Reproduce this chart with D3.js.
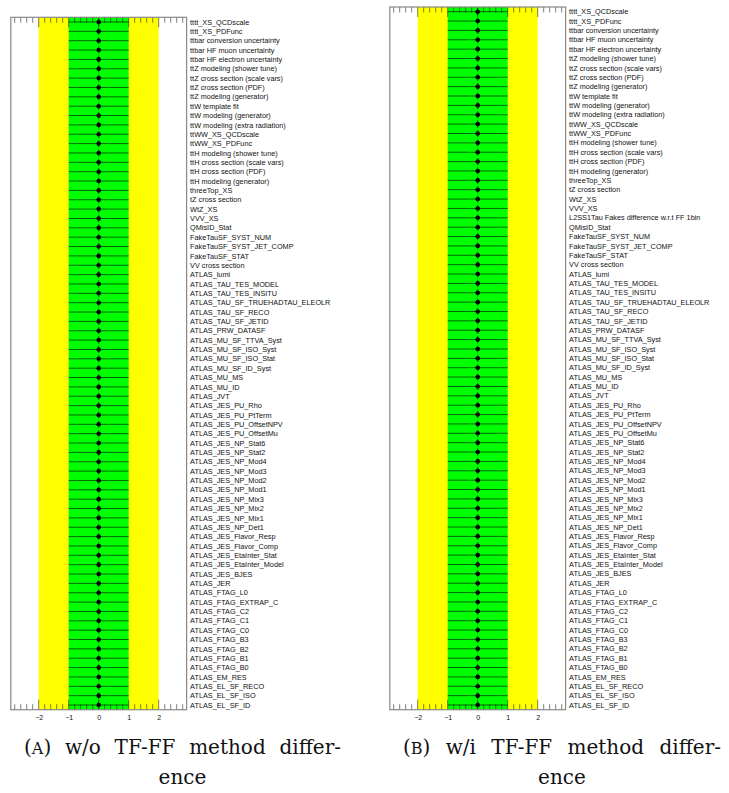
<!DOCTYPE html>
<html><head><meta charset="utf-8">
<script src="https://cdn.jsdelivr.net/npm/d3@7"></script>
<style>body{margin:0;background:#fff}svg{display:block}</style>
</head><body>
<svg id="c" width="729" height="793"></svg>
<script>
// ---------------- data ----------------
const labelsA = [
"tttt_XS_QCDscale","tttt_XS_PDFunc","ttbar conversion uncertainty","ttbar HF muon uncertainty",
"ttbar HF electron uncertainty","ttZ modeling (shower tune)","ttZ cross section (scale vars)",
"ttZ cross section (PDF)","ttZ modeling (generator)","ttW template fit","ttW modeling (generator)",
"ttW modeling (extra radiation)","ttWW_XS_QCDscale","ttWW_XS_PDFunc","ttH modeling (shower tune)",
"ttH cross section (scale vars)","ttH cross section (PDF)","ttH modeling (generator)","threeTop_XS",
"tZ cross section","WtZ_XS","VVV_XS","QMisID_Stat","FakeTauSF_SYST_NUM","FakeTauSF_SYST_JET_COMP",
"FakeTauSF_STAT","VV cross section","ATLAS_lumi","ATLAS_TAU_TES_MODEL","ATLAS_TAU_TES_INSITU",
"ATLAS_TAU_SF_TRUEHADTAU_ELEOLR","ATLAS_TAU_SF_RECO","ATLAS_TAU_SF_JETID","ATLAS_PRW_DATASF",
"ATLAS_MU_SF_TTVA_Syst","ATLAS_MU_SF_ISO_Syst","ATLAS_MU_SF_ISO_Stat","ATLAS_MU_SF_ID_Syst",
"ATLAS_MU_MS","ATLAS_MU_ID","ATLAS_JVT","ATLAS_JES_PU_Rho","ATLAS_JES_PU_PtTerm",
"ATLAS_JES_PU_OffsetNPV","ATLAS_JES_PU_OffsetMu","ATLAS_JES_NP_Stat6","ATLAS_JES_NP_Stat2",
"ATLAS_JES_NP_Mod4","ATLAS_JES_NP_Mod3","ATLAS_JES_NP_Mod2","ATLAS_JES_NP_Mod1","ATLAS_JES_NP_Mix3",
"ATLAS_JES_NP_Mix2","ATLAS_JES_NP_Mix1","ATLAS_JES_NP_Det1","ATLAS_JES_Flavor_Resp",
"ATLAS_JES_Flavor_Comp","ATLAS_JES_EtaInter_Stat","ATLAS_JES_EtaInter_Model","ATLAS_JES_BJES",
"ATLAS_JER","ATLAS_FTAG_L0","ATLAS_FTAG_EXTRAP_C","ATLAS_FTAG_C2","ATLAS_FTAG_C1","ATLAS_FTAG_C0",
"ATLAS_FTAG_B3","ATLAS_FTAG_B2","ATLAS_FTAG_B1","ATLAS_FTAG_B0","ATLAS_EM_RES","ATLAS_EL_SF_RECO",
"ATLAS_EL_SF_ISO","ATLAS_EL_SF_ID"];

const labelsB = [
"tttt_XS_QCDscale","tttt_XS_PDFunc","ttbar conversion uncertainty","ttbar HF muon uncertainty",
"ttbar HF electron uncertainty","ttZ modeling (shower tune)","ttZ cross section (scale vars)",
"ttZ cross section (PDF)","ttZ modeling (generator)","ttW template fit","ttW modeling (generator)",
"ttW modeling (extra radiation)","ttWW_XS_QCDscale","ttWW_XS_PDFunc","ttH modeling (shower tune)",
"ttH cross section (scale vars)","ttH cross section (PDF)","ttH modeling (generator)","threeTop_XS",
"tZ cross section","WtZ_XS","VVV_XS","L2SS1Tau Fakes difference w.r.t FF 1bin","QMisID_Stat",
"FakeTauSF_SYST_NUM","FakeTauSF_SYST_JET_COMP",
"FakeTauSF_STAT","VV cross section","ATLAS_lumi","ATLAS_TAU_TES_MODEL","ATLAS_TAU_TES_INSITU",
"ATLAS_TAU_SF_TRUEHADTAU_ELEOLR","ATLAS_TAU_SF_RECO","ATLAS_TAU_SF_JETID","ATLAS_PRW_DATASF",
"ATLAS_MU_SF_TTVA_Syst","ATLAS_MU_SF_ISO_Syst","ATLAS_MU_SF_ISO_Stat","ATLAS_MU_SF_ID_Syst",
"ATLAS_MU_MS","ATLAS_MU_ID","ATLAS_JVT","ATLAS_JES_PU_Rho","ATLAS_JES_PU_PtTerm",
"ATLAS_JES_PU_OffsetNPV","ATLAS_JES_PU_OffsetMu","ATLAS_JES_NP_Stat6","ATLAS_JES_NP_Stat2",
"ATLAS_JES_NP_Mod4","ATLAS_JES_NP_Mod3","ATLAS_JES_NP_Mod2","ATLAS_JES_NP_Mod1","ATLAS_JES_NP_Mix3",
"ATLAS_JES_NP_Mix2","ATLAS_JES_NP_Mix1","ATLAS_JES_NP_Det1","ATLAS_JES_Flavor_Resp",
"ATLAS_JES_Flavor_Comp","ATLAS_JES_EtaInter_Stat","ATLAS_JES_EtaInter_Model","ATLAS_JES_BJES",
"ATLAS_JER","ATLAS_FTAG_L0","ATLAS_FTAG_EXTRAP_C","ATLAS_FTAG_C2","ATLAS_FTAG_C1","ATLAS_FTAG_C0",
"ATLAS_FTAG_B3","ATLAS_FTAG_B2","ATLAS_FTAG_B1","ATLAS_FTAG_B0","ATLAS_EM_RES","ATLAS_EL_SF_RECO",
"ATLAS_EL_SF_ISO","ATLAS_EL_SF_ID"];

// pulls (all 0) and post-fit errors (all 1)
const pullsA = [0,0,0,0,0,0,0,0,0,0,0,0,0,0,0,0,0,0,0,0,0,0,0,0,0,0,0,0,0,0,0,0,0,0,0,0,0,0,0,0,0,0,0,0,0,0,0,0,0,0,0,0,0,0,0,0,0,0,0,0,0,0,0,0,0,0,0,0,0,0,0,0,0,0];
const errorsA = [1,1,1,1,1,1,1,1,1,1,1,1,1,1,1,1,1,1,1,1,1,1,1,1,1,1,1,1,1,1,1,1,1,1,1,1,1,1,1,1,1,1,1,1,1,1,1,1,1,1,1,1,1,1,1,1,1,1,1,1,1,1,1,1,1,1,1,1,1,1,1,1,1,1];
const pullsB = [0,0,0,0,0,0,0,0,0,0,0,0,0,0,0,0,0,0,0,0,0,0,0,0,0,0,0,0,0,0,0,0,0,0,0,0,0,0,0,0,0,0,0,0,0,0,0,0,0,0,0,0,0,0,0,0,0,0,0,0,0,0,0,0,0,0,0,0,0,0,0,0,0,0,0];
const errorsB = [1,1,1,1,1,1,1,1,1,1,1,1,1,1,1,1,1,1,1,1,1,1,1,1,1,1,1,1,1,1,1,1,1,1,1,1,1,1,1,1,1,1,1,1,1,1,1,1,1,1,1,1,1,1,1,1,1,1,1,1,1,1,1,1,1,1,1,1,1,1,1,1,1,1,1];

const xDomain = [-2.93, 2.93];
const band1 = [-1, 1];
const band2 = [-2, 2];
const majorTicks = [-2, -1, 0, 1, 2];
const majorTickLabels = ["\u22122", "\u22121", "0", "1", "2"];
const minorTicks = [-2.8,-2.6,-2.4,-2.2,-1.8,-1.6,-1.4,-1.2,-0.8,-0.6,-0.4,-0.2,0.2,0.4,0.6,0.8,1.2,1.4,1.6,1.8,2.2,2.4,2.6,2.8];

const captionA = { tag: "A", words: ["w/o", "TF-FF", "method", "differ-"], second: "ence" };
const captionB = { tag: "B", words: ["w/i", "TF-FF", "method", "differ-"], second: "ence" };

// ---------------- drawing ----------------
const svg = d3.select("#c");

function panel(labels, pulls, errors, box) {
  const g = svg.append("g");
  const x = d3.scaleLinear().domain(xDomain).range([box.x0, box.x1]);
  const y = d3.scaleBand().domain(d3.range(labels.length)).range([box.y0, box.y1]).padding(0);
  const bw = y.bandwidth();
  const H = box.y1 - box.y0;

  g.append("rect").attr("x", x(band2[0])).attr("y", box.y0)
    .attr("width", x(band2[1]) - x(band2[0])).attr("height", H).attr("fill", "#ffff00");
  g.append("rect").attr("x", x(band1[0])).attr("y", box.y0)
    .attr("width", x(band1[1]) - x(band1[0])).attr("height", H).attr("fill", "#00ff00");

  const rows = g.append("g").selectAll("g").data(labels).join("g");
  rows.append("line")
    .attr("x1", (d, i) => x(pulls[i] - errors[i])).attr("x2", (d, i) => x(pulls[i] + errors[i]))
    .attr("y1", (d, i) => y(i) + bw / 2).attr("y2", (d, i) => y(i) + bw / 2)
    .attr("stroke", "#000").attr("stroke-opacity", 0.6).attr("stroke-width", 1);
  rows.append("line")
    .attr("x1", (d, i) => x(pulls[i])).attr("x2", (d, i) => x(pulls[i]))
    .attr("y1", (d, i) => y(i) + 1).attr("y2", (d, i) => y(i) + bw - 1)
    .attr("stroke", "#000").attr("stroke-opacity", 0.6).attr("stroke-width", 1);
  rows.append("circle")
    .attr("cx", (d, i) => x(pulls[i])).attr("cy", (d, i) => y(i) + bw / 2)
    .attr("r", 2.3).attr("fill", "#000");
  rows.append("text")
    .attr("x", box.x1 + 3.5).attr("y", (d, i) => y(i) + bw / 2).attr("dy", "0.36em")
    .attr("font-family", "Liberation Sans, Arial, sans-serif").attr("font-size", 7.3)
    .attr("fill", "#111").text(d => d);

  // ticks top & bottom
  const tg = g.append("g").attr("stroke", "#000").attr("stroke-opacity", 0.5).attr("stroke-width", 1);
  majorTicks.forEach(v => {
    tg.append("line").attr("x1", x(v)).attr("x2", x(v)).attr("y1", box.y0).attr("y2", box.y0 + 10);
    tg.append("line").attr("x1", x(v)).attr("x2", x(v)).attr("y1", box.y1).attr("y2", box.y1 - 10);
  });
  minorTicks.forEach(v => {
    tg.append("line").attr("x1", x(v)).attr("x2", x(v)).attr("y1", box.y0).attr("y2", box.y0 + 5.5);
    tg.append("line").attr("x1", x(v)).attr("x2", x(v)).attr("y1", box.y1).attr("y2", box.y1 - 5.5);
  });

  // frame
  g.append("rect").attr("x", box.x0).attr("y", box.y0).attr("width", box.x1 - box.x0).attr("height", H)
    .attr("fill", "none").attr("stroke", "#888").attr("stroke-width", 1.2);

  // bottom axis labels via d3 axis
  const ax = d3.axisBottom(x).tickValues(majorTicks).tickSize(0).tickPadding(0)
    .tickFormat((d, i) => majorTickLabels[i]);
  const ag = g.append("g").attr("transform", `translate(0,${box.y1 + 5})`).call(ax);
  ag.select(".domain").remove();
  ag.selectAll("text").attr("font-family", "Liberation Sans, Arial, sans-serif")
    .attr("font-size", 7).attr("fill", "#111").attr("dy", "0.71em");
}

panel(labelsA, pullsA, errorsA, { x0: 10.8, x1: 186.6, y0: 17.3, y1: 709.7 });
panel(labelsB, pullsB, errorsB, { x0: 389.8, x1: 565.6, y0: 7, y1: 709.7 });

function caption(cap, left, right, base1, base2) {
  const g = svg.append("g").attr("font-family", "'DejaVu Serif', 'Liberation Serif', serif")
    .attr("font-size", 20).attr("fill", "#111");
  const items = [];
  const t0 = g.append("text").attr("y", base1);
  t0.append("tspan").text("(");
  t0.append("tspan").attr("font-size", 16).text(cap.tag);
  t0.append("tspan").text(")");
  items.push(t0);
  cap.words.forEach(w => items.push(g.append("text").attr("y", base1).text(w)));
  const widths = items.map(t => t.node().getComputedTextLength());
  const total = d3.sum(widths);
  const gap = (right - left - total) / (items.length - 1);
  let cx = left;
  items.forEach((t, i) => { t.attr("x", cx); cx += widths[i] + gap; });
  g.append("text").attr("x", (left + right) / 2).attr("y", base2)
    .attr("text-anchor", "middle").text(cap.second);
}
caption(captionA, 24, 341, 754, 784);
caption(captionB, 403, 721, 754, 784);
</script>
</body></html>
